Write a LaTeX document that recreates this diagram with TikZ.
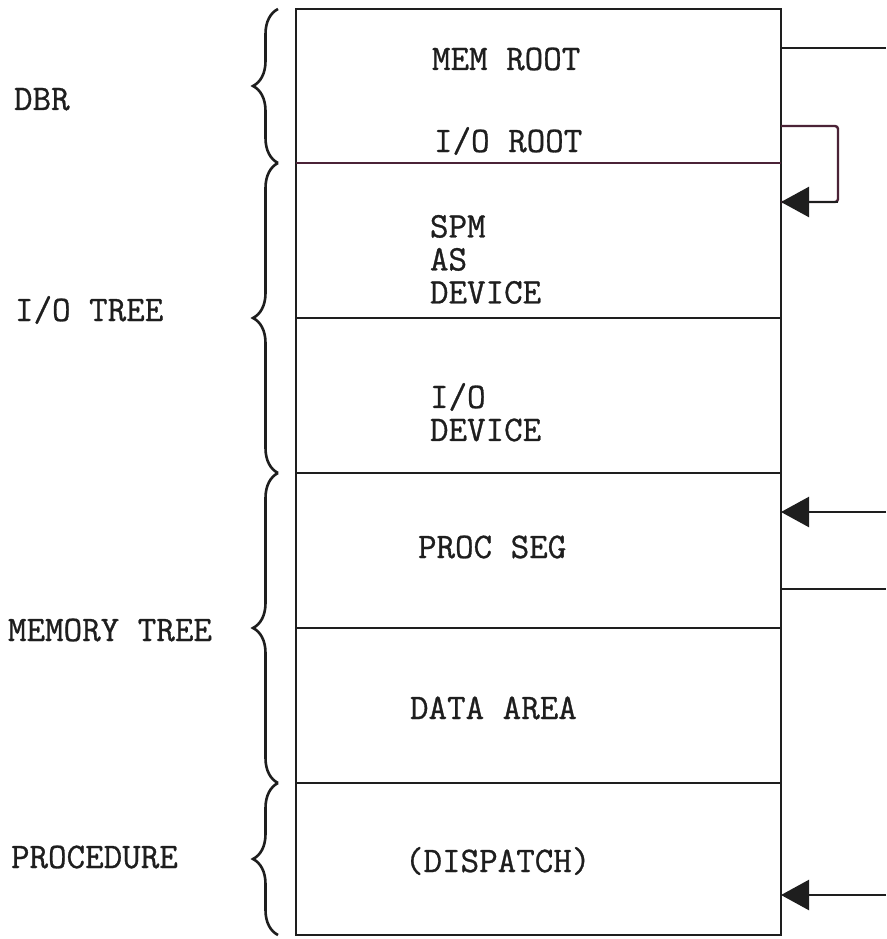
\documentclass[tikz,border=0pt]{standalone}
\usepackage{fontspec}
\newfontfamily\typer{Latin Modern Mono}[FakeBold=0.8]
\usetikzlibrary{arrows.meta,decorations.pathreplacing}
\definecolor{ink}{RGB}{30,30,30}
\definecolor{plum}{RGB}{75,35,55}
\begin{document}
\begin{tikzpicture}[x=1pt,y=-1pt,
  seg/.style={draw=ink, line width=2.7pt, rectangle, inner sep=0pt, outer sep=0pt,
              minimum width=485pt, anchor=north west},
  txt/.style={inner sep=0pt, outer sep=0pt, text=ink,
              font=\typer\fontsize{36}{33}\selectfont, align=left},
  conn/.style={draw=ink, line width=2.4pt},
  tip/.style={-{Triangle[length=28pt,width=30pt]}},
  brc/.style={draw=ink, line width=2.6pt, decorate,
              decoration={brace, amplitude=25pt}}]
\useasboundingbox[fill=white] (0,0) rectangle (886,939);

% memory column segments
\node[seg, minimum height=154pt] (dbr)   at (296,9)   {};
\node[seg, minimum height=155pt] (spm)   at (296,163) {};
\node[seg, minimum height=155pt] (iodev) at (296,318) {};
\node[seg, minimum height=155pt] (proc)  at (296,473) {};
\node[seg, minimum height=155pt] (data)  at (296,628) {};
\node[seg, minimum height=152pt] (disp)  at (296,783) {};
\draw[draw=plum, line width=2.7pt] (dbr.south west) -- (dbr.south east);

% texts inside the column
\node[txt, anchor=base west] (tmem)  at (432,70)  {MEM ROOT};
\node[txt, anchor=base west] (tio)   at (434,152) {I/O ROOT};
\node[txt, anchor=north west] (tspm) at (430,215) {SPM\\AS\\DEVICE};
\node[txt, anchor=north west] (tdev) at (430,383) {I/O\\DEVICE};
\node[txt, anchor=base west] (tproc) at (418,558) {PROC SEG};
\node[txt, anchor=base west] (tdata) at (410,719) {DATA AREA};
\node[txt, anchor=base west] (tdisp) at (405,872) {(DISPATCH)};

% left labels
\node[txt, anchor=base west] (ldbr)  at (14,110)  {DBR};
\node[txt, anchor=base west] (lio)   at (15,321)  {I/O TREE};
\node[txt, anchor=base west] (lmem)  at (8,641)   {MEMORY TREE};
\node[txt, anchor=base west] (lproc) at (11,868)  {PROCEDURE};

% braces
\draw[brc] (278,163) -- (278,9);
\draw[brc] (278,473) -- (278,163);
\draw[brc] (278,783) -- (278,473);
\draw[brc] (278,935) -- (278,783);

% connectors on the right
\coordinate (m1) at (886,48);
\draw[conn] (dbr.east |- m1) -- (m1);

\coordinate (lpa) at (838,126);
\coordinate (lpb) at (838,202);
\draw[conn, draw=plum, rounded corners=3pt] (dbr.east |- lpa) -- (lpa) -- (lpb) -- (lpb -| spm.east);
\draw[conn, draw=ink, tip] (lpb) -- (lpb -| spm.east);

\coordinate (a1) at (886,512);
\draw[conn, tip] (a1) -- (a1 -| proc.east);

\coordinate (p2) at (886,589);
\draw[conn] (p2 -| proc.east) -- (p2);

\coordinate (a2) at (886,895);
\draw[conn, tip] (a2) -- (a2 -| disp.east);
\end{tikzpicture}
\end{document}
